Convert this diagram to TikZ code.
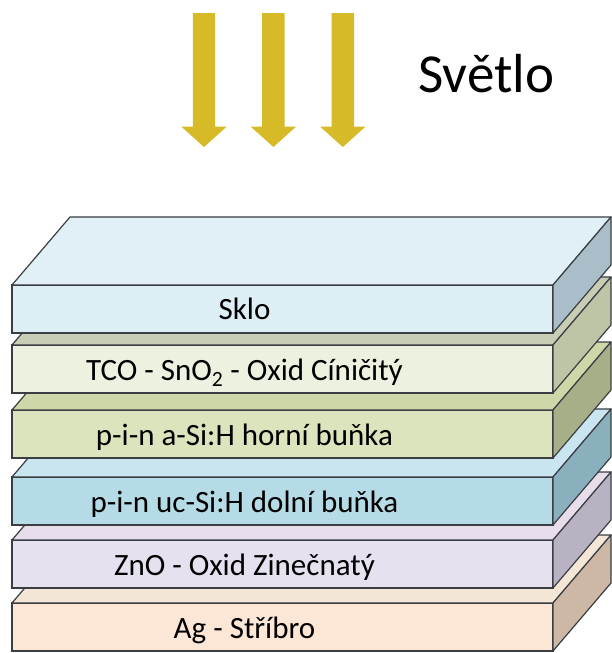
\documentclass[tikz,border=0pt]{standalone}
\usepackage{fontspec}
\setmainfont{Carlito}
\definecolor{sunyellow}{RGB}{214,186,40}
\definecolor{edgegray}{RGB}{58,62,66}
\definecolor{sklofront}{RGB}{221,238,245}
\definecolor{sklotop}{RGB}{225,240,246}
\definecolor{skloside}{RGB}{170,190,201}
\definecolor{tcofront}{RGB}{237,241,224}
\definecolor{tcotop}{RGB}{200,205,182}
\definecolor{tcoside}{RGB}{190,196,166}
\definecolor{asifront}{RGB}{220,228,190}
\definecolor{asitop}{RGB}{205,215,168}
\definecolor{asiside}{RGB}{167,175,136}
\definecolor{ucsifront}{RGB}{181,220,230}
\definecolor{ucsitop}{RGB}{200,229,240}
\definecolor{ucsiside}{RGB}{138,175,189}
\definecolor{znofront}{RGB}{230,225,238}
\definecolor{znotop}{RGB}{232,221,234}
\definecolor{znoside}{RGB}{185,178,195}
\definecolor{agfront}{RGB}{252,231,215}
\definecolor{agtop}{RGB}{244,230,214}
\definecolor{agside}{RGB}{205,184,166}
\usetikzlibrary{positioning}
\usetikzlibrary{shapes.arrows}
\tikzset{
  layer/.style={draw=edgegray, line width=1.2pt, minimum width=541pt, minimum height=48pt, inner sep=0pt, outer sep=0pt},
  face/.style={draw=edgegray, line width=1.2pt, line join=round},
  caption/.style={font=\fontsize{31}{37}\selectfont, text=black, anchor=base, inner sep=0pt},
  ray/.style={single arrow, shape border rotate=270, fill=sunyellow, draw=none,
    minimum height=134pt, minimum width=45pt, inner sep=11pt, outer sep=0pt,
    single arrow head extend=11.5pt, single arrow tip angle=96},
}

\begin{document}
\begin{tikzpicture}[x=1pt,y=1pt]
  \useasboundingbox (0,0) rectangle (611,653);

  % light: 
  \node [ray] (r1) at (204,578) {};
  \node [ray, right=47pt of r1] (r2) {};
  \node [ray, right=47pt of r2] (r3) {};
  \node [font=\fontsize{55}{66}\selectfont, anchor=base west, inner sep=0pt] (light) at (418,560) {Světlo};

  % Ag: 
  \node [layer, fill=agfront] (ag) at (282.5,26) {};
  \draw [face, fill=agtop] (ag.north west) -- ++(58,68) -- ++(541,0) -- (ag.north east) -- cycle;
  \draw [face, fill=agside] (ag.north east) -- ++(58,68) -- ++(0,-48) -- (ag.south east) -- cycle;
  \node [caption] (agtext) at ([xshift=-38pt, yshift=-12pt]ag.center) {Ag - Stříbro};

  % ZnO: 
  \node [layer, fill=znofront, above=15pt of ag] (zno) {};
  \draw [face, fill=znotop] (zno.north west) -- ++(58,68) -- ++(541,0) -- (zno.north east) -- cycle;
  \draw [face, fill=znoside] (zno.north east) -- ++(58,68) -- ++(0,-48) -- (zno.south east) -- cycle;
  \node [caption] (znotext) at ([xshift=-38pt, yshift=-12pt]zno.center) {ZnO - Oxid Zinečnatý};

  % uc-Si: 
  \node [layer, fill=ucsifront, above=15pt of zno] (ucsi) {};
  \draw [face, fill=ucsitop] (ucsi.north west) -- ++(58,68) -- ++(541,0) -- (ucsi.north east) -- cycle;
  \draw [face, fill=ucsiside] (ucsi.north east) -- ++(58,68) -- ++(0,-48) -- (ucsi.south east) -- cycle;
  \node [caption] (ucsitext) at ([xshift=-38pt, yshift=-12pt]ucsi.center) {p-i-n uc-Si:H dolní buňka};

  % a-Si: 
  \node [layer, fill=asifront, above=19pt of ucsi] (asi) {};
  \draw [face, fill=asitop] (asi.north west) -- ++(58,68) -- ++(541,0) -- (asi.north east) -- cycle;
  \draw [face, fill=asiside] (asi.north east) -- ++(58,68) -- ++(0,-48) -- (asi.south east) -- cycle;
  \node [caption] (asitext) at ([xshift=-38pt, yshift=-12pt]asi.center) {p-i-n a-Si:H horní buňka};

  % TCO: 
  \node [layer, fill=tcofront, above=17pt of asi] (tco) {};
  \draw [face, fill=tcotop] (tco.north west) -- ++(58,68) -- ++(541,0) -- (tco.north east) -- cycle;
  \draw [face, fill=tcoside] (tco.north east) -- ++(58,68) -- ++(0,-48) -- (tco.south east) -- cycle;
  \node [caption] (tcotext) at ([xshift=-38pt, yshift=-12pt]tco.center) {TCO - SnO\textsubscript{2} - Oxid Cíničitý};

  % Sklo: 
  \node [layer, fill=sklofront, above=12pt of tco] (sklo) {};
  \draw [face, fill=sklotop] (sklo.north west) -- ++(58,68) -- ++(541,0) -- (sklo.north east) -- cycle;
  \draw [face, fill=skloside] (sklo.north east) -- ++(58,68) -- ++(0,-48) -- (sklo.south east) -- cycle;
  \node [caption] (sklotext) at ([xshift=-38pt, yshift=-11pt]sklo.center) {Sklo};

\end{tikzpicture}
\end{document}
